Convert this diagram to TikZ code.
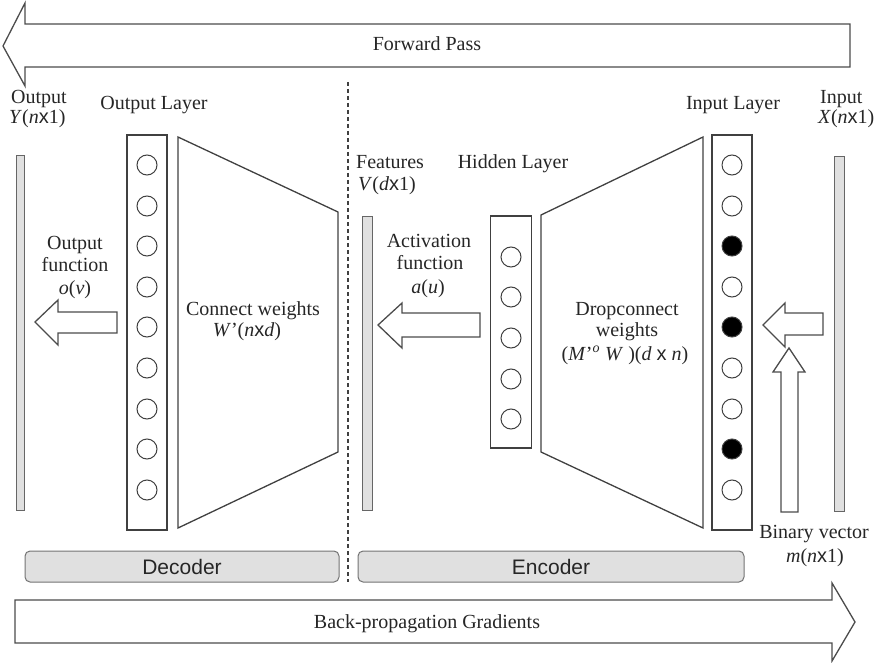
\documentclass[tikz,border=0pt]{standalone}
\usepackage{fontspec}
\setmainfont{Liberation Serif}
\setsansfont{Liberation Sans}
\newcommand{\tx}{{\sffamily x}}
\begin{document}
\begin{tikzpicture}[x=1pt,y=-1pt,
  ln/.style={draw=black!75, line width=1.3pt, line join=miter},
  blockarrow/.style={draw=black!70, line width=1.3pt, fill=white, line join=miter},
  layerbox/.style={draw=black!75, line width=1.3pt, fill=white, inner sep=0pt},
  bar/.style={draw=black!60, fill=black!12, line width=1pt, inner sep=0pt},
  neuron/.style={circle, draw=black!75, line width=1pt, minimum size=20pt, inner sep=0pt, fill=white},
  on/.style={fill=black},
  lbl/.style={font=\fontsize{20}{23}\selectfont, inner sep=0pt, text=black!85},
  part/.style={draw=black!55, fill=black!12, line width=1pt, rounded corners=5pt, inner sep=0pt,
     font=\sffamily\fontsize{21}{24}\selectfont, text=black!85}
]
\useasboundingbox (0,0) rectangle (880,663);

% Forward pass arrow
\draw[blockarrow] (3,46) -- (25,3) -- (25,24) -- (850,24) -- (850,67) -- (25,67) -- (25,86) -- cycle;
\node[lbl, anchor=base] (fwd) at (427,51) {Forward Pass};

% Back-propagation arrow
\draw[blockarrow] (15,600) -- (832,600) -- (832,583) -- (855,622) -- (832,661) -- (832,643) -- (15,643) -- cycle;
\node[lbl, anchor=base] (bwd) at (427,628) {Back-propagation Gradients};

% dashed separator
\coordinate (dtop) at (348,82);
\coordinate (dbot) at (348,582);
\draw[draw=black!75, line width=1.1pt, dash pattern=on 4pt off 3pt] (dtop) -- (dbot);

% Output side
\node[lbl, anchor=base west] (outA) at (11,104) {Output};
\node[lbl, anchor=base west] (outB) at (9,124) {\textit{Y}(\textit{n}\tx1)};
\node[bar, minimum width=8pt, minimum height=354pt] (ybar) at (20,333) {};

\node[lbl, anchor=base] (outlayerlbl) at (154,110) {Output Layer};
\node[layerbox, minimum width=40pt, minimum height=395pt] (outlayer) at (147,332.5) {};
\foreach \i/\y in {1/165,2/206,3/246,4/287,5/327,6/368,7/409,8/449,9/490}
  \node[neuron] (o\i) at (147,\y) {};

% decoder trapezoid
\draw[ln] (178,137) -- (338,212) -- (338,452) -- (178,528) -- cycle;
\node[lbl, anchor=base] (cw1) at (253,315) {Connect weights};
\node[lbl, anchor=base] (cw2) at (247,336) {\textit{W}’(\textit{n}\tx\textit{d})};

% output function
\node[lbl, anchor=base] (of1) at (75,249) {Output};
\node[lbl, anchor=base] (of2) at (75,271) {function};
\node[lbl, anchor=base] (of3) at (75,294) {\textit{o}(\textit{v})};
\draw[blockarrow] (35,322) -- (58,300) -- (58,312) -- (117,312) -- (117,333) -- (58,333) -- (58,345) -- cycle;

% features
\node[lbl, anchor=base west] (featA) at (356,169) {Features};
\node[lbl, anchor=base west] (featB) at (358,190) {\textit{V}(\textit{d}\tx1)};
\node[bar, minimum width=10pt, minimum height=294pt] (vbar) at (367,363) {};

% activation
\node[lbl, anchor=base] (ac1) at (429,247) {Activation};
\node[lbl, anchor=base] (ac2) at (430,269) {function};
\node[lbl, anchor=base] (ac3) at (428,293) {\textit{a}(\textit{u})};
\draw[blockarrow] (378,325) -- (402,303) -- (402,313) -- (480,313) -- (480,337) -- (402,337) -- (402,348) -- cycle;

% hidden layer
\node[lbl, anchor=base] (hidlbl) at (513,169) {Hidden Layer};
\node[layerbox, minimum width=41pt, minimum height=232pt] (hidden) at (511,332) {};
\foreach \i/\y in {1/257,2/297,3/338,4/379,5/419}
  \node[neuron] (h\i) at (511,\y) {};

% encoder trapezoid
\draw[ln] (541,215) -- (703,137) -- (703,528) -- (541,452) -- cycle;
\node[lbl, anchor=base] (dc1) at (627,315) {Dropconnect};
\node[lbl, anchor=base] (dc2) at (627,336) {weights};
\node[lbl, anchor=base] (dc3) at (625,360) {(\textit{M}’\textsuperscript{\textit{o}} \textit{W} )(\textit{d} \tx{} \textit{n})};

% input layer
\node[lbl, anchor=base] (inlayerlbl) at (733,110) {Input Layer};
\node[layerbox, minimum width=40pt, minimum height=395pt] (inlayer) at (732,332.5) {};
\foreach \i/\y/\s in {1/165/,2/206/,3/246/on,4/287/,5/327/on,6/368/,7/409/,8/449/on,9/490/}
  \node[neuron,\s] (i\i) at (732,\y) {};

% input
\node[lbl, anchor=base west] (inA) at (820,104) {Input};
\node[lbl, anchor=base west] (inB) at (818,124) {\textit{X}(\textit{n}\tx1)};
\node[bar, minimum width=10pt, minimum height=354pt] (xbar) at (839,334) {};

% input arrows
\draw[blockarrow] (763,325) -- (785,303) -- (785,313) -- (823,313) -- (823,335) -- (785,335) -- (785,347) -- cycle;
\draw[blockarrow] (789,348) -- (805,372) -- (798,372) -- (798,512) -- (781,512) -- (781,372) -- (773,372) -- cycle;
\node[lbl, anchor=base] (bin1) at (814,538) {Binary vector};
\node[lbl, anchor=base] (bin2) at (815,562) {\textit{m}(\textit{n}\tx1)};

% decoder / encoder labels
\node[part, minimum width=314pt, minimum height=31pt] (dec) at (182,566.5) {Decoder};
\node[part, minimum width=386pt, minimum height=31pt] (enc) at (551,566.5) {Encoder};
\end{tikzpicture}
\end{document}
